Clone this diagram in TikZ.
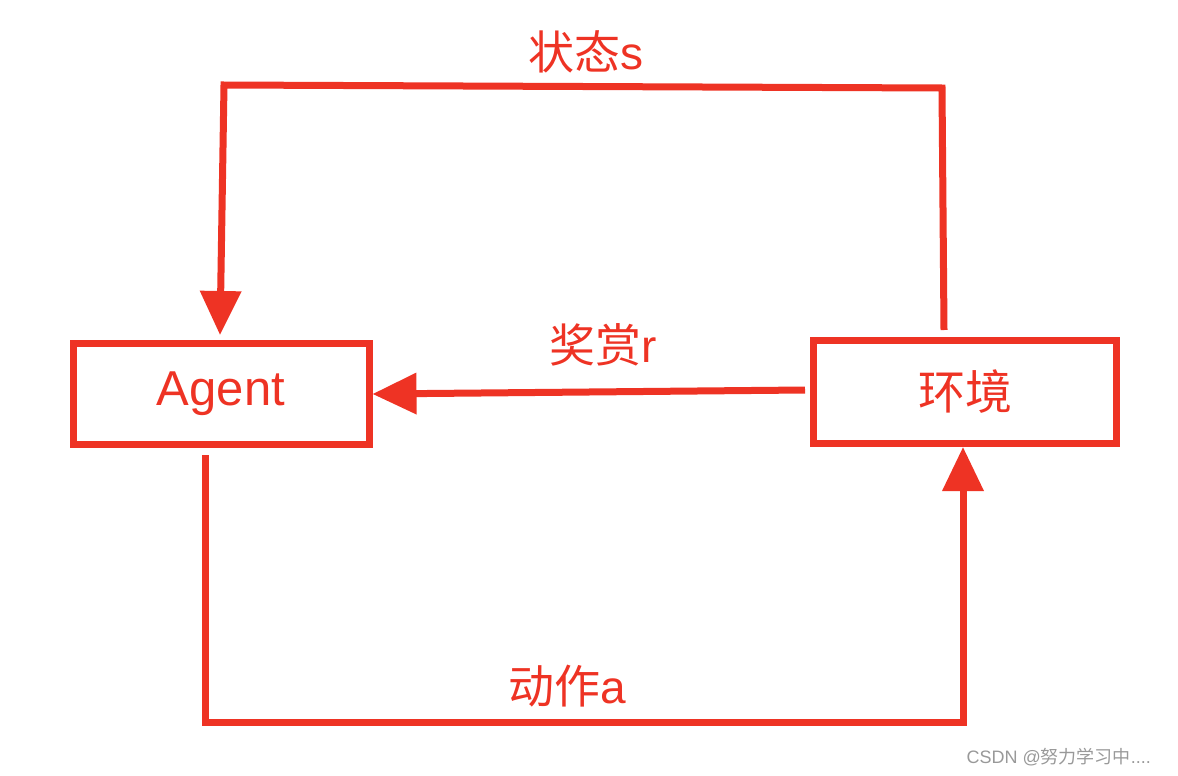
\documentclass[tikz,border=0pt]{standalone}
\usepackage{fontspec}
\setmainfont{Liberation Sans}
\newfontfamily\cjk{Noto Sans CJK SC}
\usepackage{tikz}
\usetikzlibrary{arrows.meta}
\definecolor{flowred}{RGB}{238,51,36}

\begin{document}
\begin{tikzpicture}[x=0.5pt,y=-0.5pt,line width=3.5pt,>={Triangle[length=22pt,width=20pt]},
      box node/.style={rectangle,draw=flowred,inner sep=0pt,font=\fontsize{24.5}{29}\selectfont,text=flowred},
      link/.style={draw=flowred,line join=miter},
      label node/.style={text=flowred,font=\fontsize{23}{27}\selectfont}]
      \useasboundingbox (0,0) rectangle (1178,776);
      \node[box node,minimum width=148pt,minimum height=50.5pt] (agent) at (221,394) {Agent};
      \node[box node,minimum width=151.5pt,minimum height=51.5pt] (env) at (965,392) {{\cjk\fontsize{23.5}{28}\selectfont 环境}};

      % corners of the loops
      \coordinate (stop) at (944,330);
      \coordinate (stl) at (224,85);
      \coordinate (str) at (942,88);
      \coordinate (atip) at (220,335);
      \coordinate (astart) at (205,455);
      \coordinate (abl) at (205,722);
      \coordinate (abr) at (963,722);

      \draw[link,->] (stop) -- (str) -- (stl) -- (atip);
      \draw[link,->] (env.west) ++(-5,-2) -- (agent.east);
      \draw[link,->] (astart) -- (abl) -- (abr) -- (env.south -| abr);

      \node[label node] (state) at (586,52) {{\cjk 状态}s};
      \node[label node] (reward) at (603,345) {{\cjk 奖赏}r};
      \node[label node] (action) at (567,686) {{\cjk 动作}a};
      \node[text=black!40,font=\fontsize{9}{11}\selectfont,anchor=east] (mark) at (1161,757) {CSDN @{\cjk 努力学习中}....};
\end{tikzpicture}
\end{document}
